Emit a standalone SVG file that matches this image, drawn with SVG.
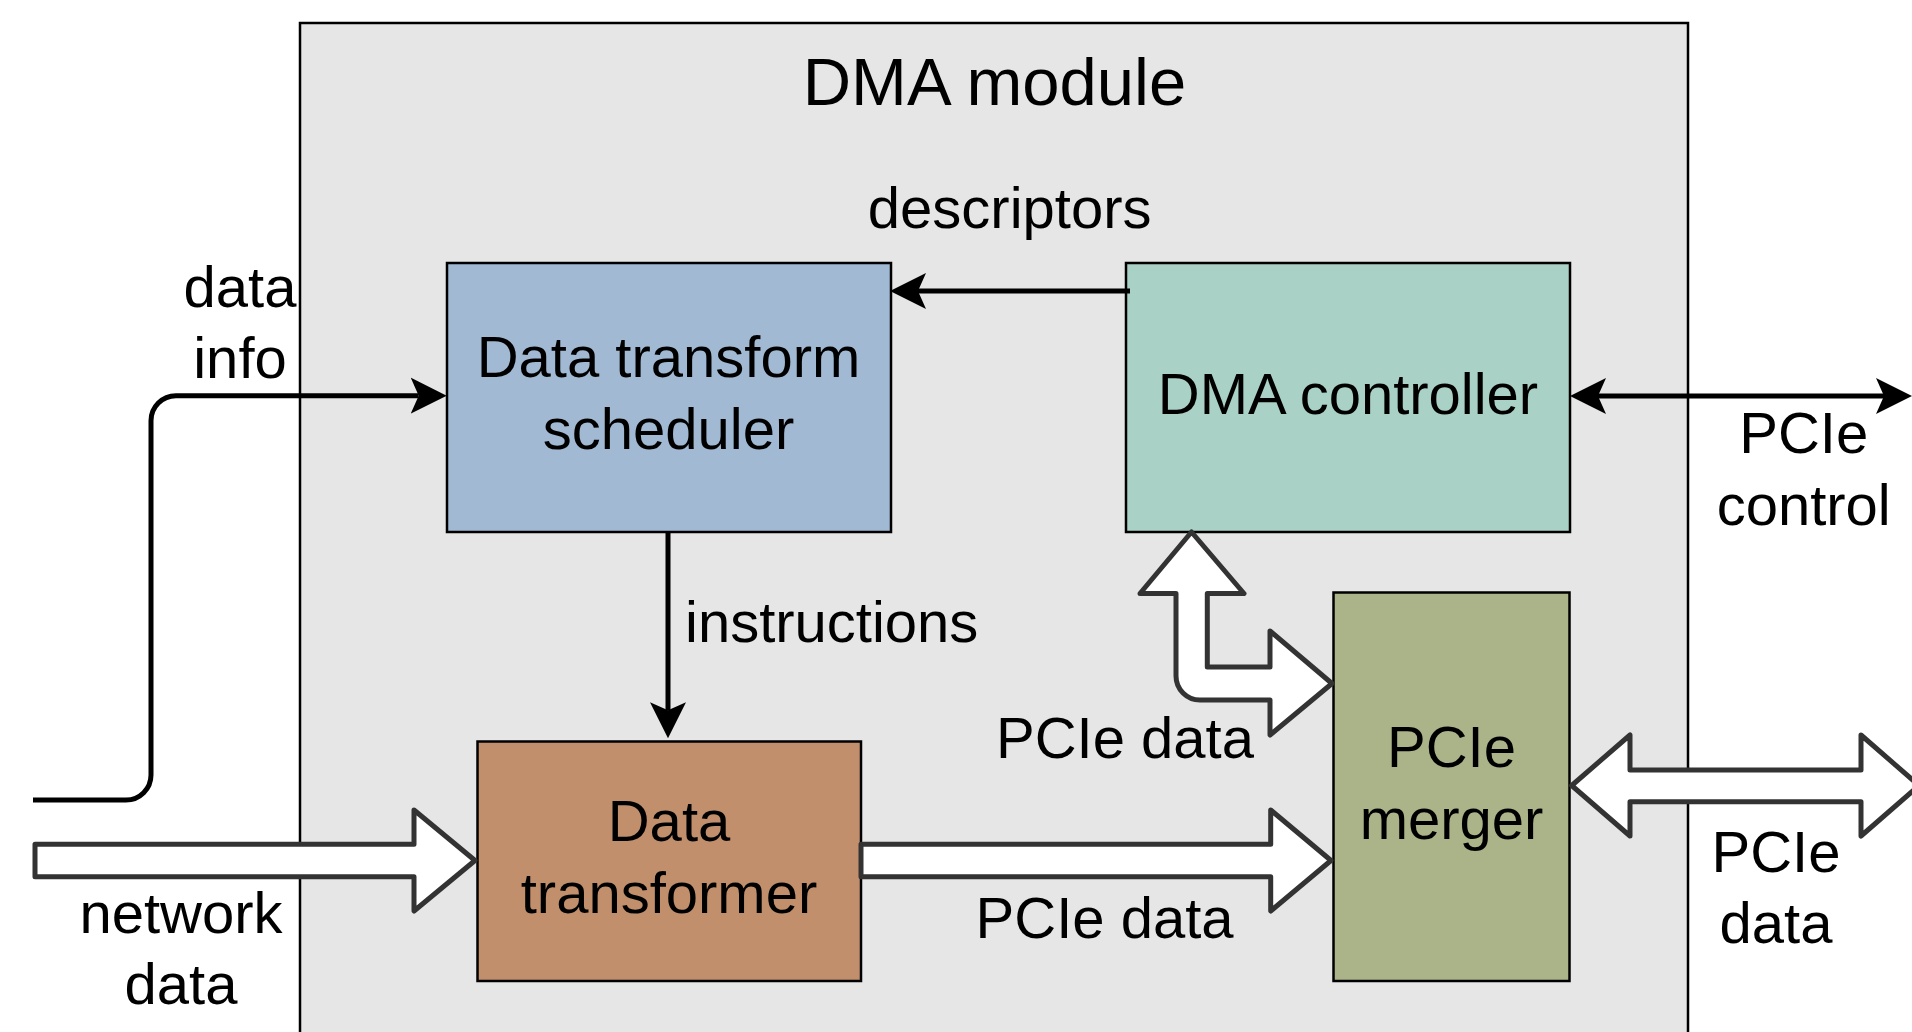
<svg xmlns="http://www.w3.org/2000/svg" width="1912" height="1032" viewBox="0 0 1912 1032">
<style>
  text { font-family: "Liberation Sans", Arial, sans-serif; font-size: 58px; fill: #000; }
  .c { text-anchor: middle; }
  .box { stroke: #000; stroke-width: 2.5; }
  .line { fill: none; stroke: #000; stroke-width: 5; }
  .block { fill: #fff; stroke: #333; stroke-width: 5; stroke-linejoin: round; }
</style>
<defs>
  <marker id="ah" markerUnits="userSpaceOnUse" markerWidth="40" markerHeight="40" viewBox="0 0 40 40" refX="8" refY="20" orient="auto-start-reverse">
    <path d="M0,2 L36,20 L0,38 L8,20 Z" fill="#000"/>
  </marker>
</defs>
<rect width="1912" height="1032" fill="#fff"/>

<g id="dma-module">
  <rect x="300" y="23" width="1388" height="1030" fill="#e6e6e6" stroke="#000" stroke-width="2.5"/>
  <text class="c" x="994.5" y="105" style="font-size:67px">DMA module</text>
</g>

<g id="scheduler">
  <rect class="box" x="447" y="263" width="444" height="269" fill="#a1b9d3"/>
  <text class="c" x="668.5" y="377">Data transform</text>
  <text class="c" x="668.5" y="448.5">scheduler</text>
</g>

<g id="dma-controller">
  <rect class="box" x="1126" y="263" width="444" height="269" fill="#a9d1c5"/>
  <text class="c" x="1348" y="414">DMA controller</text>
</g>

<g id="data-transformer">
  <rect class="box" x="477.5" y="741.5" width="383.5" height="239.5" fill="#c18f6c"/>
  <text class="c" x="669" y="841">Data</text>
  <text class="c" x="669" y="913">transformer</text>
</g>

<g id="pcie-merger">
  <rect class="box" x="1333.5" y="592.5" width="236" height="388.5" fill="#abb388"/>
  <text class="c" x="1451.5" y="767">PCIe</text>
  <text class="c" x="1451.5" y="839">merger</text>
</g>

<g id="connectors">
  <!-- data info -->
  <path class="line" d="M33,800 H126 A25,25 0 0 0 151,775 V420.7 A25,25 0 0 1 176,395.7 H418.7" marker-end="url(#ah)"/>
  <text class="c" x="240" y="306.7">data</text>
  <text class="c" x="240" y="377.7">info</text>

  <!-- descriptors -->
  <path class="line" d="M1130,291 H918" marker-end="url(#ah)"/>
  <text class="c" x="1009.7" y="228.3">descriptors</text>

  <!-- instructions -->
  <path class="line" d="M668,532 V710.3" marker-end="url(#ah)"/>
  <text x="685" y="641.7">instructions</text>

  <!-- PCIe control -->
  <path class="line" d="M1598,396 H1884" marker-start="url(#ah)" marker-end="url(#ah)"/>
  <text class="c" x="1803.7" y="453.3">PCIe</text>
  <text class="c" x="1803.7" y="525">control</text>

  <!-- network data -->
  <path class="block" d="M35,844.3 H414 V810 L475,860.5 L414,911 V876.7 H35 Z"/>
  <text class="c" x="181" y="932.7">network</text>
  <text class="c" x="181" y="1004">data</text>

  <!-- transformer to merger -->
  <path class="block" d="M861,844.3 H1270.7 V810 L1331,860.5 L1270.7,911 V876.7 H861 Z"/>
  <text class="c" x="1104.6" y="938.3">PCIe data</text>

  <!-- controller <-> merger -->
  <path class="block" d="M1191.5,532 L1244,593.5 H1207.3 V667 H1270 V631 L1332,683.5 L1270,735 V700 H1200 A24,24 0 0 1 1176,676 V593.5 H1140 Z"/>
  <text class="c" x="1125" y="758.3">PCIe data</text>

  <!-- merger <-> outside -->
  <path class="block" d="M1571.7,785.5 L1630,735 V770 H1861 V735 L1919,785.5 L1861,836 V801.7 H1630 V836 Z"/>
  <text class="c" x="1776" y="871.7">PCIe</text>
  <text class="c" x="1776" y="943.3">data</text>
</g>
</svg>
